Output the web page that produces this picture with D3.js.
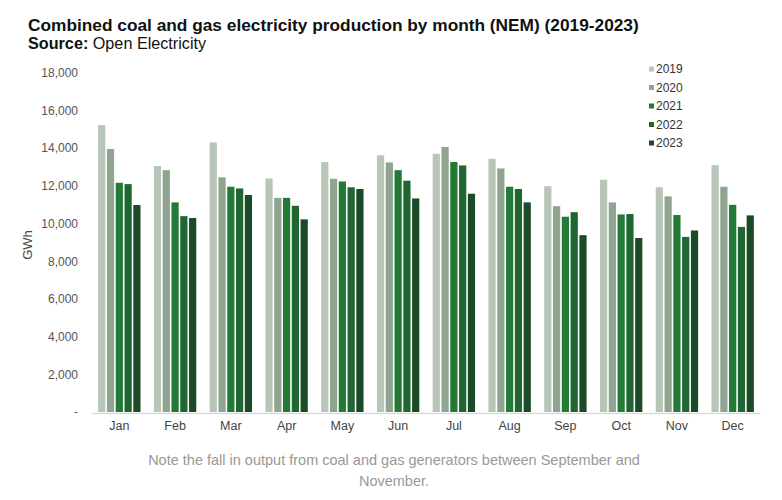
<!DOCTYPE html>
<html><head><meta charset="utf-8">
<script src="https://cdn.jsdelivr.net/npm/d3@7"></script>
<style>body{margin:0;background:#fff;} svg{display:block;font-family:"Liberation Sans",Arial,sans-serif;}</style>
</head><body>
<svg id="c" width="782" height="500"></svg>
<script>
const months = ["Jan","Feb","Mar","Apr","May","Jun","Jul","Aug","Sep","Oct","Nov","Dec"];
const years = ["2019","2020","2021","2022","2023"];
const v2019 = [15220,13050,14300,12390,13260,13620,13700,13430,11980,12320,11920,13100];
const v2020 = [13950,12830,12450,11360,12370,13240,14060,12920,10920,11120,11440,11950];
const v2021 = [12160,11120,11950,11360,12230,12830,13260,11950,10360,10480,10450,10990];
const v2022 = [12090,10390,11860,10940,11920,12270,13080,11830,10600,10500,9290,9820];
const v2023 = [10980,10290,11510,10220,11830,11330,11580,11120,9380,9230,9630,10430];
const yTicks = [0,2000,4000,6000,8000,10000,12000,14000,16000,18000];
const colors = ["#b8c6ba","#90a590","#237a37","#1f6631","#1b4a26"];
const series = [v2019,v2020,v2021,v2022,v2023];

const svg = d3.select("#c");
const x0 = d3.scaleBand().domain(months).range([92,760]).paddingInner(0.24).paddingOuter(0.11);
const x1 = d3.scaleBand().domain(years).range([0,x0.bandwidth()]).paddingInner(0.18);
const y = d3.scaleLinear().domain([0,18000]).range([412,72.7]);

// title
svg.append("text").attr("x",28).attr("y",31).attr("font-size",17.3).attr("font-weight","bold").attr("fill","#111")
  .text("Combined coal and gas electricity production by month (NEM) (2019-2023)");
const sub = svg.append("text").attr("x",28).attr("y",48.5).attr("font-size",16.2).attr("fill","#111");
sub.append("tspan").attr("font-weight","bold").text("Source:");
sub.append("tspan").text(" Open Electricity");

// y axis
const ya = svg.append("g").attr("transform","translate(78,0)")
  .call(d3.axisLeft(y).tickValues(yTicks).tickSize(0).tickPadding(0).tickFormat(d=> d===0?"-":d3.format(",")(d)));
ya.select(".domain").remove();
ya.selectAll("text").attr("font-size",12).attr("fill","#555").attr("font-family","Liberation Sans, Arial, sans-serif");

svg.append("text").attr("transform","translate(32,245) rotate(-90)").attr("text-anchor","middle")
  .attr("font-size",13).attr("fill","#444").text("GWh");

// bars
const g = svg.append("g");
months.forEach((m,i)=>{
  const gg = g.append("g").attr("transform",`translate(${x0(m)},0)`);
  years.forEach((yr,j)=>{
    gg.append("rect").attr("x",x1(yr)).attr("width",x1.bandwidth())
      .attr("y",y(series[j][i])).attr("height",y(0)-y(series[j][i])).attr("fill",colors[j]);
  });
});

// x axis
const xa = svg.append("g").attr("transform","translate(0,413)")
  .call(d3.axisBottom(x0).tickSize(0).tickPadding(8));
xa.select(".domain").attr("stroke","#dcdcdc").attr("stroke-width",1.5);
xa.selectAll("text").attr("font-size",12.5).attr("fill","#444").attr("font-family","Liberation Sans, Arial, sans-serif");

// legend
const lg = svg.append("g");
years.forEach((yr,j)=>{
  const yy = 69 + j*18.5;
  lg.append("rect").attr("x",649).attr("y",yy-2.5).attr("width",5).attr("height",5).attr("fill",colors[j]);
  lg.append("text").attr("x",656).attr("y",yy).attr("dy","0.35em").attr("font-size",12).attr("fill","#333").text(yr);
});

// note
const note = svg.append("text").attr("text-anchor","middle").attr("font-size",14.5).attr("fill","#999");
note.append("tspan").attr("x",394).attr("y",465).text("Note the fall in output from coal and gas generators between September and");
note.append("tspan").attr("x",394).attr("y",486).text("November.");
</script>
</body></html>
